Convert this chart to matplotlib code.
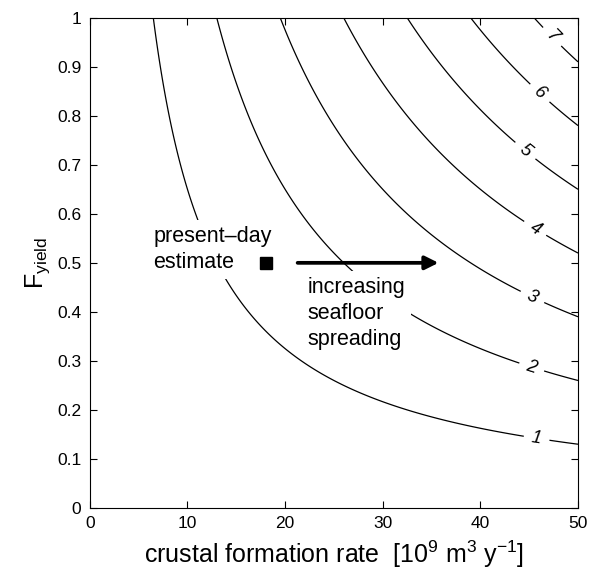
import numpy as np
import matplotlib.pyplot as plt

plt.rcParams['font.family'] = ['Liberation Sans', 'DejaVu Sans']

# contour field: yield scales with rate * F_yield (1 unit ~ 6.5e9 m3/y at F=1)
rate_per_unit = 6.5
levels = [1, 2, 3, 4, 5, 6, 7]
label_pos = [(45.8, 0.147), (45.3, 0.29), (45.4, 0.433), (45.7, 0.573),
             (44.0, 0.714), (46.4, 0.853), (47.8, 0.97)]
present_rate = 18
present_f = 0.5
arrow_end = 36

rate = np.linspace(0.05, 50, 400)
fy = np.linspace(0, 1, 400)
R, F = np.meshgrid(rate, fy)
Z = R * F / rate_per_unit

fig = plt.figure(figsize=(5.91, 5.72), dpi=100)
ax = fig.add_axes([0.152, 0.112, 0.826, 0.857])

cs = ax.contour(R, F, Z, levels=levels, colors='k', linewidths=0.9)
lbls = ax.clabel(cs, inline=True, fmt='%d', fontsize=13, manual=label_pos, inline_spacing=8)
for t in lbls:
    t.set_fontstyle('italic')

ax.plot(present_rate, present_f, 's', color='k', markersize=9, zorder=5)
ax.annotate('', xy=(arrow_end, present_f), xytext=(21, present_f),
            arrowprops=dict(arrowstyle='-|>', color='k', lw=2.7, mutation_scale=20), zorder=5)

ax.text(6.5, 0.527, 'present\u2013day\nestimate', fontsize=15.5, va='center', ha='left',
        linespacing=1.32, bbox=dict(facecolor='white', edgecolor='none', pad=4), zorder=4)
ax.text(22.3, 0.397, 'increasing\nseafloor\nspreading', fontsize=15.5, va='center', ha='left',
        linespacing=1.32, bbox=dict(facecolor='white', edgecolor='none', pad=4), zorder=4)

ax.set_xlim(0, 50)
ax.set_ylim(0, 1)
ax.set_xticks([0, 10, 20, 30, 40, 50])
ax.set_yticks(np.arange(0, 1.01, 0.1))
ax.set_yticklabels(['0', '0.1', '0.2', '0.3', '0.4', '0.5', '0.6', '0.7', '0.8', '0.9', '1'])
ax.tick_params(direction='in', top=True, right=True, labelsize=12.5, length=5, pad=6)
ax.set_xlabel('crustal formation rate  [10$^\\mathregular{9}$ m$^\\mathregular{3}$ y$^\\mathregular{-1}$]',
              fontsize=18, labelpad=5)
ax.set_ylabel('F$_\\mathregular{yield}$', fontsize=18, labelpad=4)

fig.savefig('out.png', dpi=100)
